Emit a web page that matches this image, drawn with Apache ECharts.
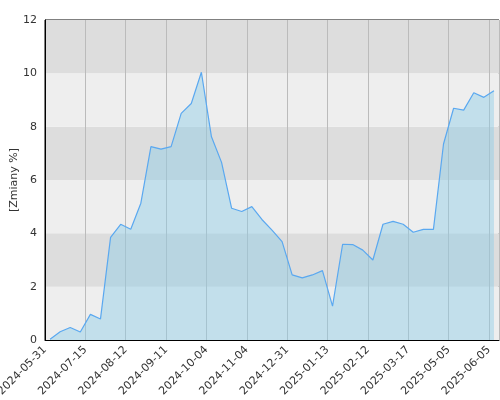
<!DOCTYPE html>
<html>
<head>
<meta charset="utf-8">
<script src="https://cdn.jsdelivr.net/npm/echarts@6/dist/echarts.min.js"></script>
<style>html,body{margin:0;padding:0;background:#fff}#c{width:500px;height:400px}</style>
</head>
<body>
<div id="c"></div>
<script>
var tickLabels = ['2024-05-31','2024-07-15','2024-08-12','2024-09-11','2024-10-04','2024-11-04','2024-12-31','2025-01-13','2025-02-12','2025-03-17','2025-05-05','2025-06-05'];
var values = [0.03,0.31,0.47,0.30,0.96,0.79,3.85,4.34,4.15,5.13,
              7.25,7.16,7.25,8.50,8.87,10.04,7.62,6.66,4.94,4.82,
              5.00,4.52,4.12,3.69,2.44,2.33,2.44,2.60,1.27,3.59,
              3.58,3.37,3.00,4.34,4.45,4.34,4.04,4.15,4.15,7.35,
              8.69,8.62,9.27,9.10,9.35];
var yTicks = [0,2,4,6,8,10,12];
var yName = '[Zmiany %]';

var pts = values.map(function(v,i){ return [i + 0.5, v]; });
var chart = echarts.init(document.getElementById('c'));
chart.setOption({
  animation: false,
  textStyle: {fontFamily: 'DejaVu Sans'},
  grid: {left: 45, top: 20, right: 1, bottom: 60, outerBoundsMode: 'none', containLabel: false,
         show: true, borderColor: '#000', borderWidth: 1, backgroundColor: 'transparent'},
  xAxis: {
    type: 'value', min: 0, max: values.length, interval: 4,
    axisLine: {show: true, lineStyle: {color: '#000'}},
    axisTick: {show: false},
    splitLine: {show: true, lineStyle: {color: '#bbbbbb', width: 1}},
    axisLabel: {
      rotate: 45, fontSize: 11, color: '#333', margin: 8,
      showMaxLabel: false, hideOverlap: false,
      formatter: function(v){ var k = Math.round(v/4); return (v % 4 === 0 && tickLabels[k]) ? tickLabels[k] : ''; }
    }
  },
  yAxis: {
    type: 'value', min: yTicks[0], max: yTicks[yTicks.length-1], interval: 2,
    name: yName, nameLocation: 'middle', nameGap: 25, nameRotate: 90, nameMoveOverlap: false,
    nameTextStyle: {fontSize: 11, color: '#333'},
    axisLine: {show: true, lineStyle: {color: '#000'}},
    axisTick: {show: false},
    splitLine: {show: false},
    splitArea: {show: true, areaStyle: {color: ['#eeeeee', '#dddddd']}},
    axisLabel: {fontSize: 11, color: '#333', margin: 8}
  },
  series: [{
    type: 'line', data: pts, symbol: 'none', smooth: false,
    lineStyle: {color: '#5aa8f0', width: 1.2},
    areaStyle: {color: 'rgba(140,205,230,0.65)'}
  }]
});
</script>
</body>
</html>
